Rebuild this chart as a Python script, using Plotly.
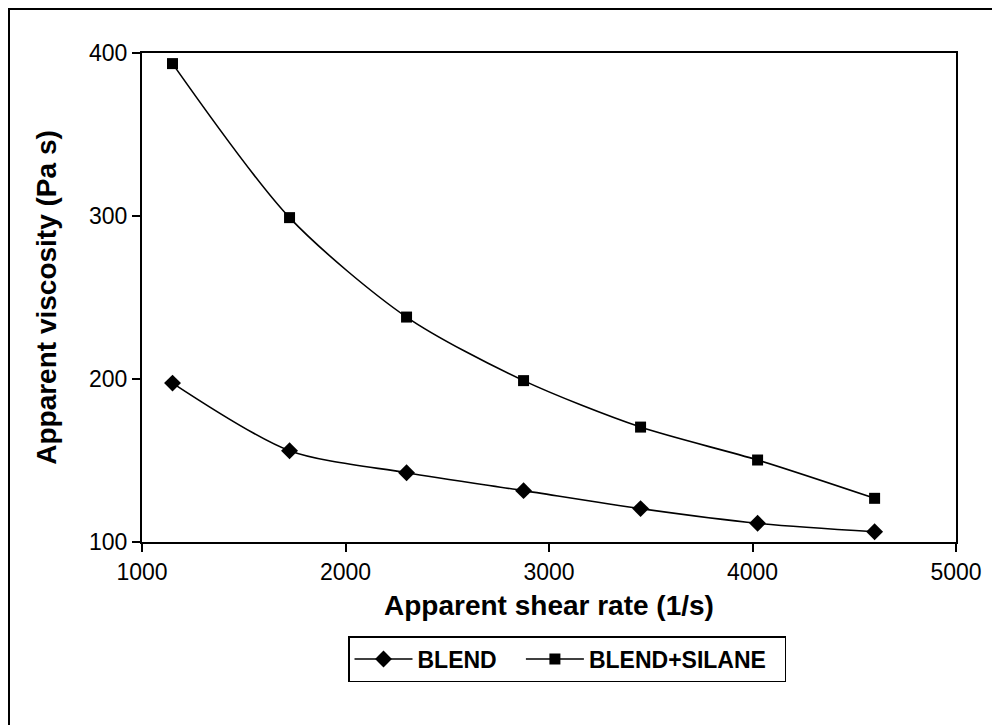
import plotly.graph_objects as go

# apparent shear rate (1/s)
shear_rate = [1150, 1725, 2300, 2875, 3450, 4025, 4600]
# apparent viscosity (Pa s)
visc_blend = [197.5, 156, 142.5, 131.5, 120.5, 111.5, 106.3]
visc_silane = [393.5, 299, 238, 199, 170.5, 150.3, 126.8]

W, H = 1000, 725
OFF = 8  # page body margin shifts the figure by this much
L, T = 142 - OFF, 53 - OFF
R = W + OFF - 956
B = H + OFF - 542
FONT = "Liberation Sans, Arial, sans-serif"


def series(y, name, symbol, size):
    return go.Scatter(x=shear_rate, y=y, name=name, mode="lines+markers",
                      line=dict(color="black", width=1.6, shape="spline", smoothing=0.8),
                      marker=dict(symbol=symbol, size=size, color="black"))


fig = go.Figure([
    series(visc_blend, "<b>BLEND</b>   ", "diamond", 13),
    series(visc_silane, "<b>BLEND+SILANE</b>  ", "square", 11),
])

pw, ph = W - L - R, H - T - B


def px_x(p):
    return (p - OFF - L) / pw


def px_y(p):
    return 1 - (p - OFF - T) / ph


# outer frame of the picture (right and bottom run off the page)
fig.add_shape(type="rect", xref="paper", yref="paper",
              x0=px_x(9), x1=px_x(W + 30), y0=px_y(H + 30), y1=px_y(9),
              line=dict(color="black", width=2), layer="below")

fig.update_layout(
    width=W, height=H,
    margin=dict(l=L, r=R, t=T, b=B),
    paper_bgcolor="white", plot_bgcolor="white",
    font=dict(family=FONT, size=23, color="black"),
    showlegend=True,
    legend=dict(orientation="h", x=px_x(567), xanchor="center",
                y=px_y(636), yanchor="top",
                bordercolor="black", borderwidth=1.5,
                font=dict(size=23), itemwidth=58, tracegroupgap=0),
)
fig.update_xaxes(range=[1000, 5000], tickvals=[1000, 2000, 3000, 4000, 5000],
                 showline=True, linecolor="black", linewidth=2, mirror=True,
                 ticks="outside", ticklen=8, tickwidth=2, tickcolor="black",
                 showgrid=False, zeroline=False,
                 title=dict(text="<b>Apparent shear rate (1/s)</b>", standoff=12))
fig.update_yaxes(range=[100, 400], tickvals=[100, 200, 300, 400],
                 showline=True, linecolor="black", linewidth=2, mirror=True,
                 ticks="outside", ticklen=8, tickwidth=2, tickcolor="black",
                 showgrid=False, zeroline=False,
                 title=dict(text="<b>Apparent viscosity (Pa s)</b>", standoff=24))

fig.write_html("out.html")
